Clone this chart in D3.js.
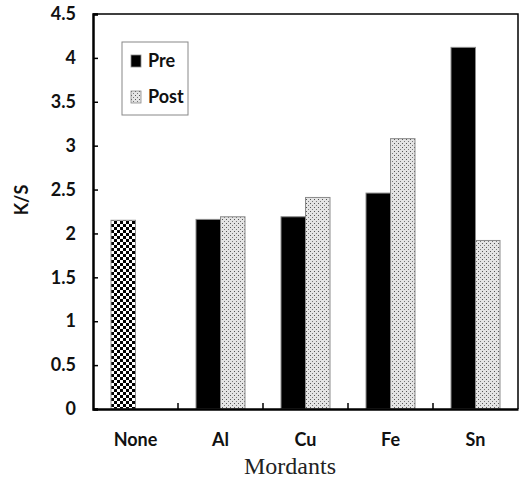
<!DOCTYPE html>
<html>
<head>
<meta charset="utf-8">
<script src="https://cdn.jsdelivr.net/npm/d3@7"></script>
<style>
  body { margin: 0; background: #fff; }
  text { font-family: Lato, "Open Sans", sans-serif; font-weight: bold; fill: #111; }
</style>
</head>
<body>
<div id="chart"></div>
<script>
// Data
var categories = ["None", "Al", "Cu", "Fe", "Sn"];
var seriesNames = ["Pre", "Post"];
var preValues = [2.15, 2.16, 2.19, 2.46, 4.12];   // "None" is the untreated control
var postValues = [null, 2.19, 2.41, 3.08, 1.92];
var yTicks = [0, 0.5, 1, 1.5, 2, 2.5, 3, 3.5, 4, 4.5];

var margin = { top: 14, right: 5, bottom: 75, left: 93 };
var width = 523 - margin.left - margin.right;
var height = 484 - margin.top - margin.bottom;

var svg = d3.select("#chart")
    .append("svg")
    .attr("width", 523)
    .attr("height", 484);

// fill patterns
var defs = svg.append("defs");
var checker = defs.append("pattern")
    .attr("id", "checker")
    .attr("width", 6).attr("height", 6)
    .attr("patternUnits", "userSpaceOnUse");
checker.append("rect").attr("width", 6).attr("height", 6).attr("fill", "#fff");
checker.append("rect").attr("width", 3).attr("height", 3).attr("fill", "#000");
checker.append("rect").attr("x", 3).attr("y", 3).attr("width", 3).attr("height", 3).attr("fill", "#000");

var dots = defs.append("pattern")
    .attr("id", "dots")
    .attr("width", 4).attr("height", 4)
    .attr("patternUnits", "userSpaceOnUse");
dots.append("rect").attr("width", 4).attr("height", 4).attr("fill", "#e4e4e4");
dots.append("rect").attr("x", 1).attr("y", 1).attr("width", 1).attr("height", 1).attr("fill", "#555");
dots.append("rect").attr("x", 3).attr("y", 3).attr("width", 1).attr("height", 1).attr("fill", "#777");

var g = svg.append("g")
    .attr("transform", "translate(" + margin.left + "," + margin.top + ")");

// Scales
var x = d3.scaleBand().domain(categories).range([0, width]);
var xs = d3.scaleBand().domain(seriesNames).range([0, x.bandwidth()]).paddingOuter(0.735);
var y = d3.scaleLinear().domain([0, 4.5]).range([height, 0]);

// Bars
var rows = [];
categories.forEach(function (c, i) {
    rows.push({ cat: c, series: "Pre", value: preValues[i] });
    if (postValues[i] != null) rows.push({ cat: c, series: "Post", value: postValues[i] });
});

g.selectAll(".bar")
    .data(rows)
    .enter().append("rect")
    .attr("class", "bar")
    .attr("x", function (d) { return x(d.cat) + xs(d.series); })
    .attr("y", function (d) { return y(d.value); })
    .attr("width", xs.bandwidth())
    .attr("height", function (d) { return height - y(d.value); })
    .attr("fill", function (d) {
        if (d.cat === "None") return "url(#checker)";
        return d.series === "Pre" ? "#000" : "url(#dots)";
    })
    .attr("stroke", "#8a8a8a")
    .attr("stroke-width", 1);

// Frame (top and right)
g.append("path")
    .attr("d", "M0,0H" + width + "V" + height)
    .attr("fill", "none")
    .attr("stroke", "#000")
    .attr("stroke-width", 1.5);

// y axis
var yAxis = g.append("g")
    .call(d3.axisLeft(y).tickValues(yTicks).tickSize(-5).tickPadding(17).tickFormat(function (d) { return d; }));
yAxis.select(".domain").attr("stroke-width", 2.5);
yAxis.selectAll(".tick line").attr("stroke-width", 1.5);
yAxis.selectAll("text").attr("font-size", 18).attr("font-family", "Lato, sans-serif").attr("font-weight", "bold").attr("fill", "#111");

// x axis (labels only) + inward boundary ticks
var xAxis = g.append("g")
    .attr("transform", "translate(0," + height + ")")
    .call(d3.axisBottom(x).tickSize(0).tickPadding(24));
xAxis.select(".domain").attr("stroke-width", 2.5);
xAxis.selectAll("text").attr("font-size", 18).attr("font-family", "Lato, sans-serif").attr("font-weight", "bold").attr("fill", "#111");

g.selectAll(".xtick")
    .data(categories.slice(1))
    .enter().append("line")
    .attr("class", "xtick")
    .attr("x1", function (d) { return x(d); })
    .attr("x2", function (d) { return x(d); })
    .attr("y1", height)
    .attr("y2", height - 6)
    .attr("stroke", "#000")
    .attr("stroke-width", 1.5);

// axis titles
svg.append("text")
    .attr("transform", "translate(28," + 200 + ") rotate(-90)")
    .attr("text-anchor", "middle")
    .attr("font-size", 18)
    .text("K/S");

svg.append("text")
    .attr("x", 290)
    .attr("y", 474)
    .attr("text-anchor", "middle")
    .style("font-family", "'Liberation Serif', 'DejaVu Serif', serif")
    .style("font-weight", "normal")
    .style("fill", "#222")
    .attr("font-size", 24)
    .text("Mordants");

// legend
var legend = svg.append("g").attr("transform", "translate(122,42)");
legend.append("rect")
    .attr("width", 66).attr("height", 73)
    .attr("fill", "#fff")
    .attr("stroke", "#888")
    .attr("stroke-width", 1);

var legendItems = legend.selectAll(".item")
    .data(seriesNames)
    .enter().append("g")
    .attr("class", "item")
    .attr("transform", function (d, i) { return "translate(0," + (i * 36) + ")"; });

legendItems.append("rect")
    .attr("x", 9).attr("y", 13)
    .attr("width", 10).attr("height", 12)
    .attr("fill", function (d) { return d === "Pre" ? "#000" : "url(#dots)"; })
    .attr("stroke", "#8a8a8a")
    .attr("stroke-width", 0.8);

legendItems.append("text")
    .attr("x", 26).attr("y", 25)
    .attr("font-size", 18)
    .text(function (d) { return d; });
</script>
</body>
</html>
